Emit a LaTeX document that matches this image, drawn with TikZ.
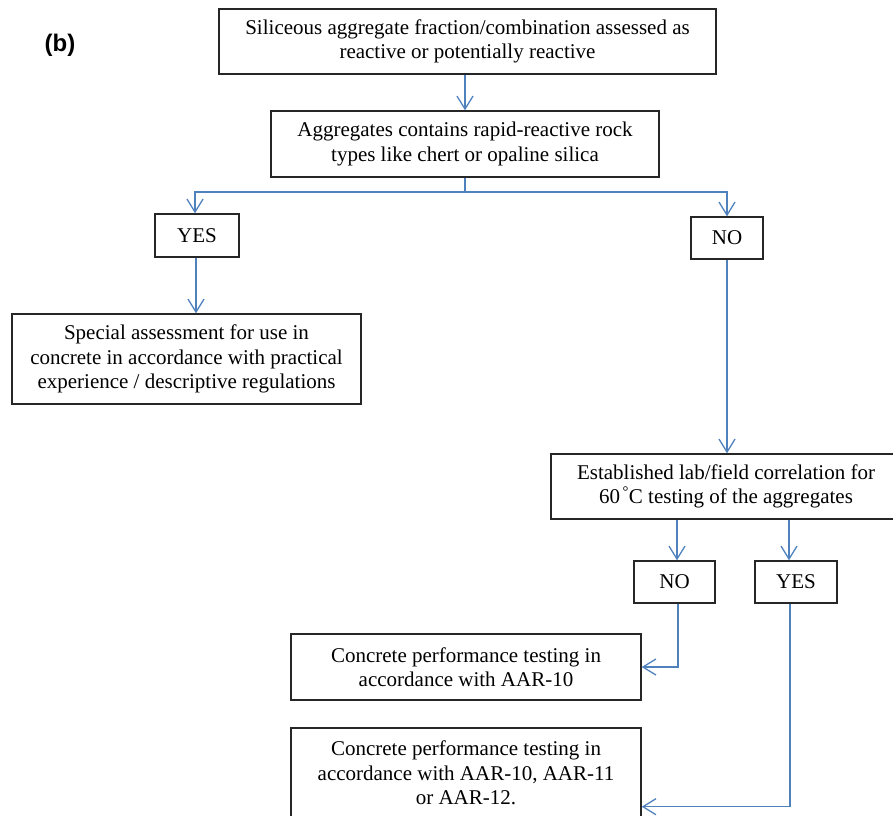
\documentclass[tikz,border=0pt]{standalone}
\usepackage{fontspec}
\setmainfont{Liberation Serif}
\newfontfamily\labelfont{Liberation Sans}
\usetikzlibrary{arrows.meta}
\definecolor{flowblue}{RGB}{79,129,189}
\tikzset{
  box/.style={draw=black!85, line width=1.4pt, align=center, inner sep=0pt,
    font=\fontsize{21}{24.5}\selectfont},
  link/.style={draw=flowblue, line width=1.3pt, -{Straight Barb[length=13pt, width=16pt, line width=1.3pt]}},
  plain/.style={draw=flowblue, line width=1.3pt}
}

\begin{document}
\begin{tikzpicture}[x=1pt, y=-1pt]
\useasboundingbox (0,0) rectangle (893,815);
\clip (0,0) rectangle (893,815);
\node[font=\labelfont\bfseries\fontsize{24}{26}\selectfont] (tag) at (60,45) {(b)};

\node[box, minimum width=497, minimum height=65] (top) at (467.5,41.5)
  {Siliceous aggregate fraction/combination assessed as\\reactive or potentially reactive};
\node[box, minimum width=388, minimum height=66] (agg) at (465,144)
  {Aggregates contains rapid-reactive rock\\types like chert or opaline silica};
\node[box, minimum width=84, minimum height=43] (yes1) at (197,235.5) {YES};
\node[box, minimum width=72, minimum height=42] (no1) at (727,238) {NO};
\node[box, minimum width=349, minimum height=90] (special) at (186.5,359)
  {Special assessment for use in\\concrete in accordance with practical\\experience / descriptive regulations};
\node[box, minimum width=350, minimum height=65] (corr) at (726,486.5)
  {Established lab/field correlation for\\60\textsuperscript{\,\textdegree}C testing of the aggregates};
\node[box, minimum width=81, minimum height=42] (no2) at (674.5,582) {NO};
\node[box, minimum width=82, minimum height=42] (yes2) at (796,582) {YES};
\node[box, minimum width=350, minimum height=66] (aar10) at (466,667)
  {Concrete performance testing in\\accordance with AAR-10};
\node[box, minimum width=350, minimum height=90] (aar11) at (466,773)
  {Concrete performance testing in\\accordance with AAR-10, AAR-11\\or AAR-12.};

% connectors
\draw[link] (agg.north |- top.south) -- (agg.north);
\coordinate (fork) at (465,192);
\draw[plain] (agg.south) -- (fork);
\draw[link] (fork) -| ([xshift=-2pt]yes1.north);
\draw[link] (fork) -| (no1.north);
\draw[link] ([xshift=-1pt]yes1.south) -- ([xshift=-1pt]yes1.south |- special.north);
\draw[link] (no1.south) -- (no1.south |- corr.north);
\draw[link] ([xshift=2.5pt]no2.north |- corr.south) -- ([xshift=2.5pt]no2.north);
\draw[link] ([xshift=-7pt]yes2.north |- corr.south) -- ([xshift=-7pt]yes2.north);
\draw[link] ([xshift=3.5pt]no2.south) |- (aar10.east);
\draw[link] ([xshift=-6pt]yes2.south) |- ([yshift=12pt]aar11.south east);
\end{tikzpicture}
\end{document}
